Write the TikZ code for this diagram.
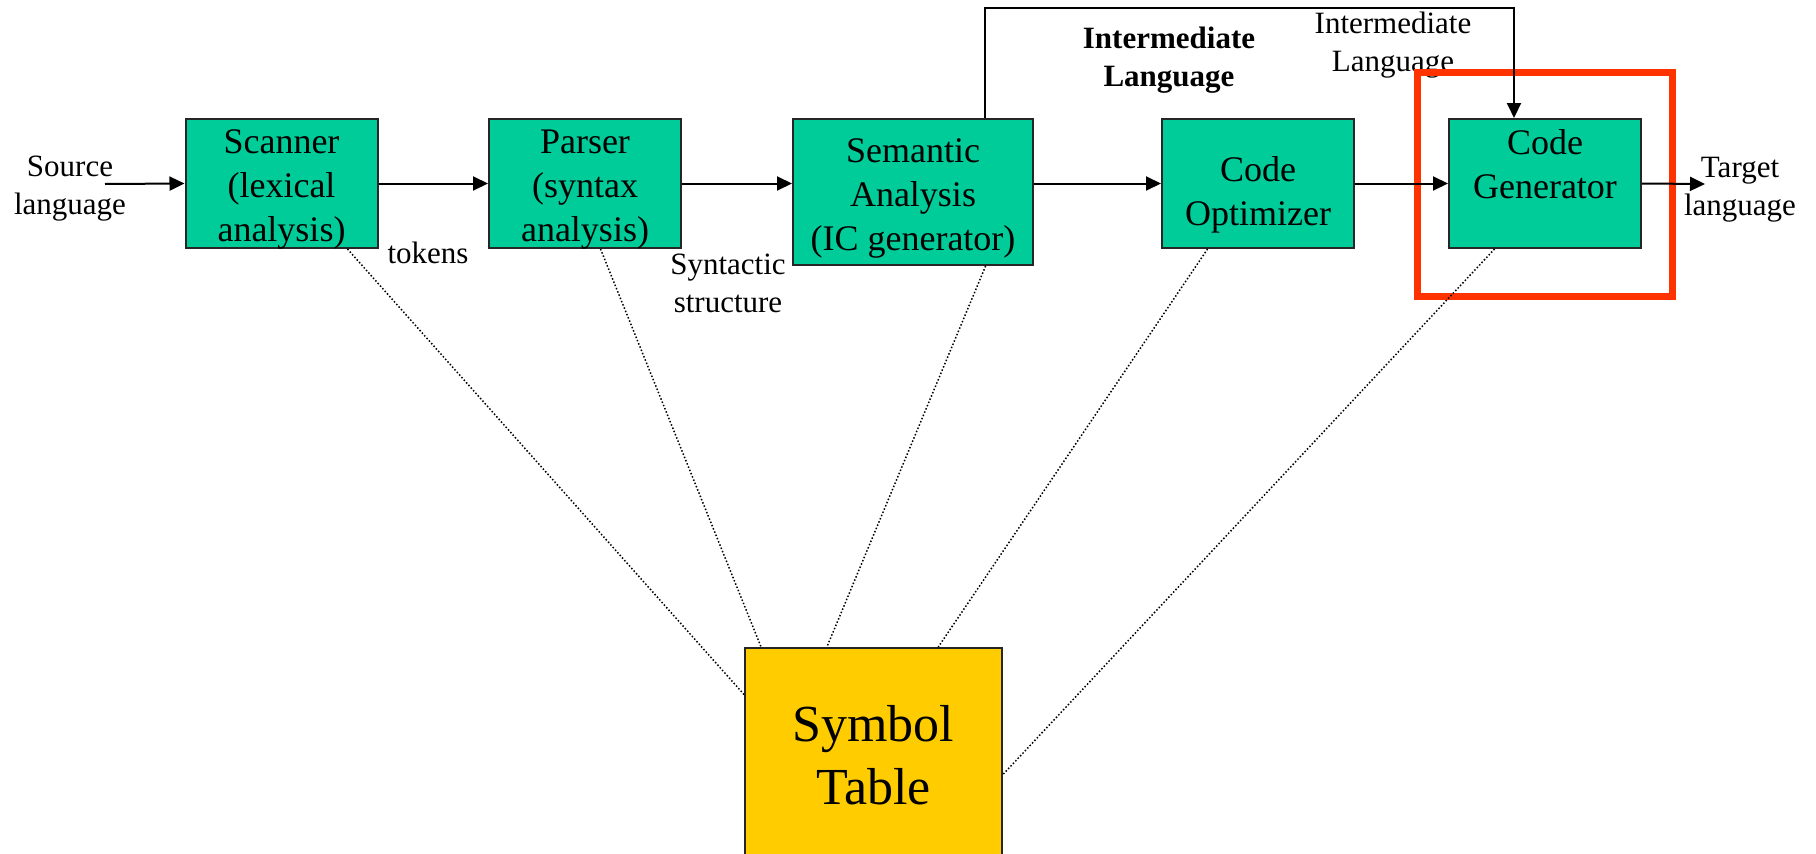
\documentclass[tikz,border=0pt]{standalone}
\usepackage{fontspec}
\setmainfont{Liberation Serif}
\usetikzlibrary{arrows.meta,calc}
\definecolor{boxgreen}{RGB}{0,204,153}
\definecolor{symyellow}{RGB}{255,204,0}
\definecolor{hlred}{RGB}{255,51,0}
\newcommand{\boxlines}[2]{\raisebox{#1}[0pt][0pt]{\begin{tabular}{@{}c@{}}#2\end{tabular}}}
\begin{document}
\begin{tikzpicture}[x=1pt,y=-1pt,
  phase/.style={draw=black!85, line width=2pt, fill=boxgreen,
    font=\fontsize{36}{44}\selectfont, inner sep=0pt, minimum width=192pt, minimum height=129pt},
  lbl/.style={align=center, font=\fontsize{31}{38}\selectfont, inner sep=0pt},
  flow/.style={line width=2pt, -{Triangle[length=15pt,width=14pt]}},
  link/.style={line width=1.5pt, dash pattern=on 1.5pt off 2pt},
]
\useasboundingbox (0,0) rectangle (1816,854);

% phase boxes
\node[phase] (scanner) at (281.5,183.5) {\boxlines{-11pt}{Scanner\\(lexical\\analysis)}};
\node[phase] (parser) at (585,183.5) {\boxlines{-11pt}{Parser\\(syntax\\analysis)}};
\node[phase, minimum width=240pt, minimum height=146pt] (semantic) at (913,192) {\boxlines{-12pt}{Semantic\\Analysis\\(IC generator)}};
\node[phase] (opt) at (1258,183.5) {\boxlines{-17pt}{Code\\Optimizer}};
\node[phase] (gen) at (1545,183.5) {\boxlines{10pt}{Code\\Generator}};
\node[draw=black!85, line width=2pt, fill=symyellow, inner sep=0pt, align=center,
  minimum width=257pt, minimum height=214pt, font=\fontsize{52}{63}\selectfont]
  (symtab) at (873.5,755) {Symbol\\Table};

% labels
\node[lbl] (srclbl) at (70,189) {Source\\language};
\node[lbl] (toklbl) at (428,253) {tokens};
\node[lbl] (synlbl) at (728,283) {Syntactic\\structure};
\node[lbl, font=\bfseries\fontsize{31}{38}\selectfont] (illbl) at (1169,60) {Intermediate\\Language};
\node[lbl] (illbl2) at (1393,45) {Intermediate\\Language};
\node[lbl] (tgtlbl) at (1740,190) {Target\\language};

% highlight
\node[draw=hlred, line width=7pt, minimum width=255pt, minimum height=224pt, inner sep=0pt] (focus) at (1544.5,184) {};

% connectors
\coordinate (srcpt) at (105,184);
\coordinate (tgtpt) at (1705,184);
\coordinate (ilL) at (985,8);
\coordinate (ilR) at (1514,8);
\draw[flow] (srcpt) -- (scanner.west);
\draw[flow] (scanner.east) -- (parser.west);
\draw[flow] (parser.east) -- (parser.east -| semantic.west);
\draw[flow] (opt.west -| semantic.east) -- (opt.west);
\draw[flow] (opt.east) -- (gen.west);
\draw[flow] (gen.east) -- (tgtpt);
\draw[flow] (semantic.north -| ilL) -- (ilL) -- (ilR) -- (gen.north -| ilR);

% symbol table links
\draw[link] ($(scanner.south west)!0.84!(scanner.south east)$) -- ($(symtab.north west)!0.22!(symtab.south west)$);
\draw[link] ($(parser.south west)!0.58!(parser.south east)$) -- ($(symtab.north west)!0.066!(symtab.north east)$);
\draw[link] ($(semantic.south west)!0.80!(semantic.south east)$) -- ($(symtab.north west)!0.32!(symtab.north east)$);
\draw[link] ($(opt.south west)!0.24!(opt.south east)$) -- ($(symtab.north west)!0.75!(symtab.north east)$);
\draw[link] ($(gen.south west)!0.24!(gen.south east)$) -- ($(symtab.north east)!0.59!(symtab.south east)$);
\end{tikzpicture}
\end{document}
